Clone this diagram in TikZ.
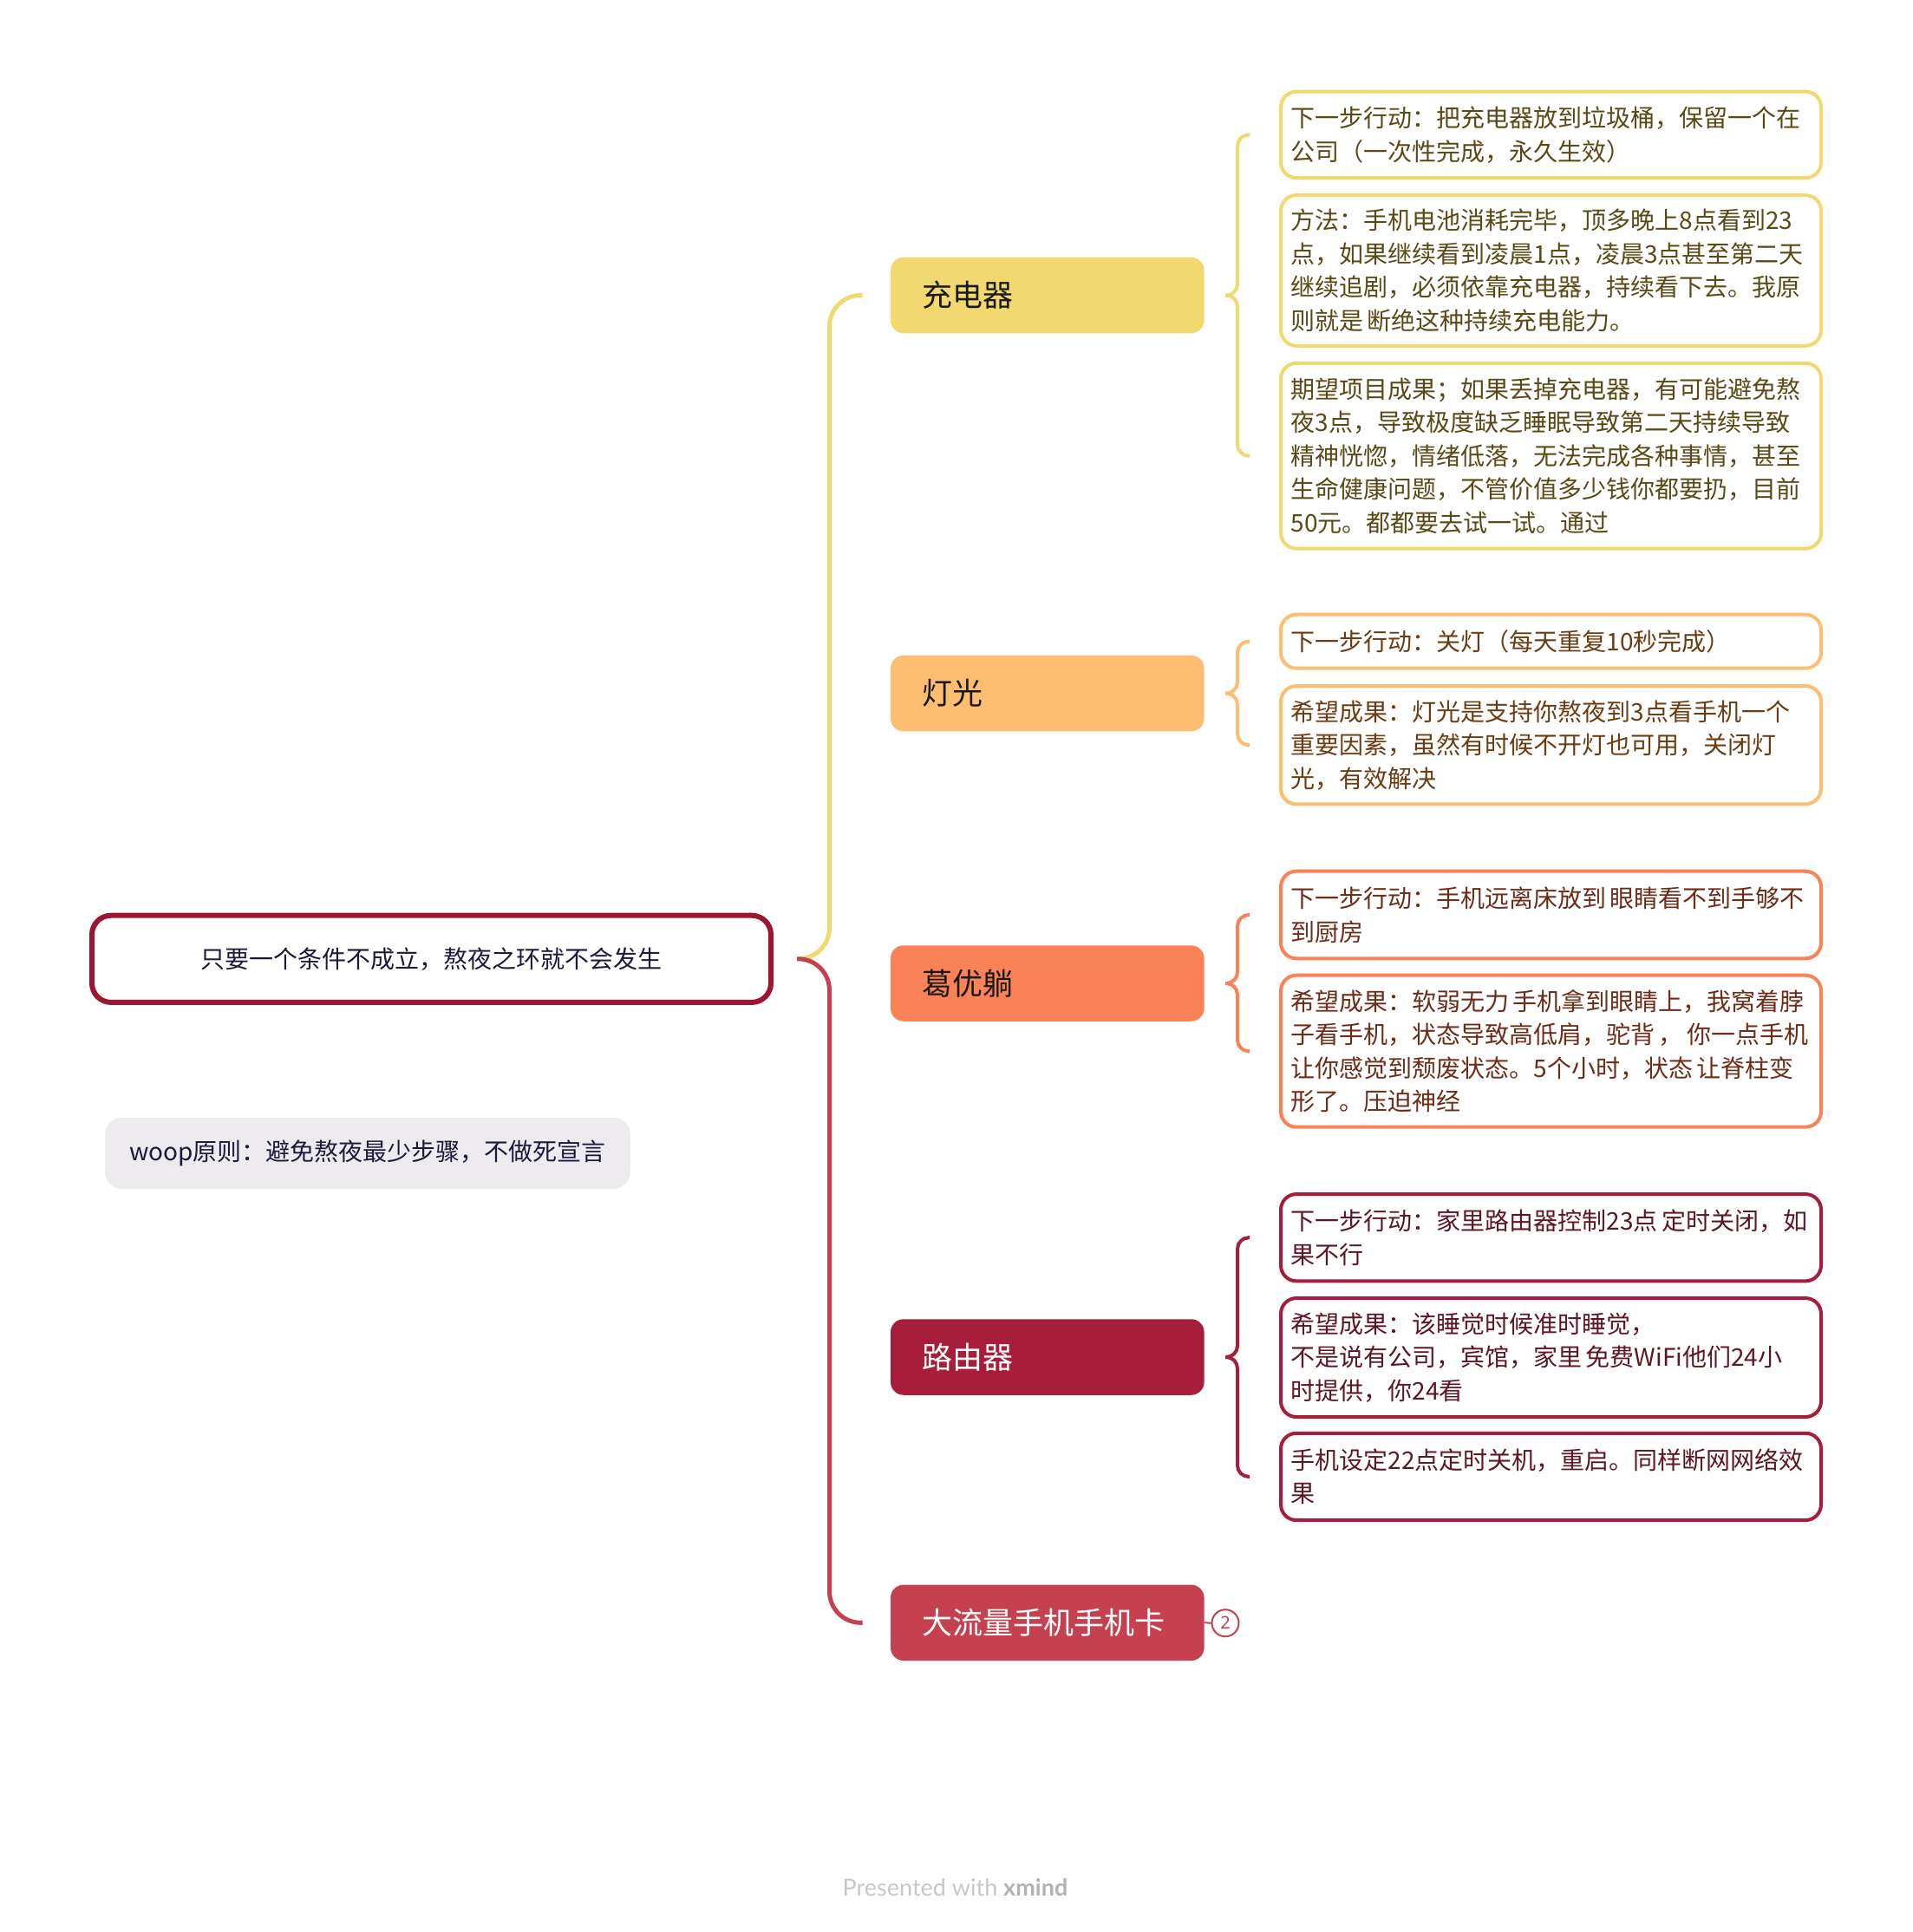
\documentclass[tikz,border=0pt]{standalone}
\usepackage{fontspec}
\setmainfont{Noto Sans}
\newfontfamily\cjk{Noto Sans CJK SC}
\newfontfamily\footfont{Lato}
\usetikzlibrary{calc}
\definecolor{cYel}{HTML}{F1D86F}
\definecolor{cLor}{HTML}{FEBE72}
\definecolor{cOra}{HTML}{F98357}
\definecolor{cDrd}{HTML}{A61E3A}
\definecolor{cRed}{HTML}{C5414F}
\definecolor{cRoot}{HTML}{9C1631}
\definecolor{cNavy}{HTML}{1C1A3A}
\definecolor{cGray}{HTML}{EDEBEE}
\definecolor{tYel}{HTML}{5A4914}
\definecolor{tLor}{HTML}{6B3C12}
\definecolor{tOra}{HTML}{6E2B17}
\definecolor{tDrd}{HTML}{5E1524}
\newcommand\gsp{\hspace{0.16em}}
\begin{document}
\begin{tikzpicture}[x=1pt,y=-1pt,
  every node/.style={outer sep=0pt},
  mainnode/.style={rounded corners=7.5pt, minimum width=180.8pt, minimum height=43.75pt,
    text width=144.2pt, inner xsep=18.3pt, inner ysep=0pt, align=left,
    font=\cjk\fontsize{17.5}{21}\selectfont, anchor=west},
  subbox/.style={draw=#1, line width=2pt, rounded corners=9pt, fill=white,
    minimum width=311.5pt, text width=300pt, inner xsep=5.75pt, inner ysep=0pt,
    align=left, font=\cjk\fontsize{14}{19.25}\selectfont, anchor=west},
  bracel/.style={draw=#1, line width=2pt, rounded corners=6.5pt},
  trunkl/.style={draw=#1, line width=2.5pt, rounded corners=18pt},
]
\useasboundingbox (0,0) rectangle (1103,1114);

% root and floating note
\node[draw=cRoot, line width=3pt, rounded corners=11pt, minimum width=391.5pt,
  minimum height=50.1pt, text=cNavy, font=\cjk\fontsize{14}{17}\selectfont]
  (root) at (248.75,552.9) {只要一个条件不成立，熬夜之环就不会发生};
\node[fill=cGray, rounded corners=10pt, minimum width=303pt, minimum height=41pt,
  text=cNavy, font=\cjk\fontsize{14}{17}\selectfont]
  (woop) at (212,665) {woop原则：避免熬夜最少步骤，不做死宣言};

% main topics
\node[mainnode, fill=cYel, text=black!90] (n1) at (513.5,170.25) {充电器};
\node[mainnode, fill=cLor, text=black!90] (n2) at (513.5,399.8) {灯光};
\node[mainnode, fill=cOra, text=black!90] (n3) at (513.5,567) {葛优躺};
\node[mainnode, fill=cDrd, text=white] (n4) at (513.5,782.5) {路由器};
\node[mainnode, fill=cRed, text=white] (n5) at (513.5,935.65) {大流量手机手机卡};

% subtopics
\node[subbox=cYel, text=tYel, minimum height=49.8pt] (a1) at (738.5,77.7)
  {下一步行动：把充电器放到垃圾桶，保留一个在\\公司（一次性完成，永久生效）};
\node[subbox=cYel, text=tYel, minimum height=86.85pt] (a2) at (738.5,155.95)
  {方法：手机电池消耗完毕，顶多晚上8点看到23\\点，如果继续看到凌晨1点，凌晨3点甚至第二天\\继续追剧，必须依靠充电器，持续看下去。我原\\则就是\gsp 断绝这种持续充电能力。};
\node[subbox=cYel, text=tYel, minimum height=106.9pt] (a3) at (738.5,262.85)
  {期望项目成果；如果丢掉充电器，有可能避免熬\\夜3点，导致极度缺乏睡眠导致第二天持续导致\\精神恍惚，情绪低落，无法完成各种事情，甚至\\生命健康问题，不管价值多少钱你都要扔，目前\\50元。都都要去试一试。通过};

\node[subbox=cLor, text=tLor, minimum height=31pt] (b1) at (738.5,369.85)
  {下一步行动：关灯（每天重复10秒完成）};
\node[subbox=cLor, text=tLor, minimum height=68.15pt] (b2) at (738.5,429.6)
  {希望成果：灯光是支持你熬夜到3点看手机一个\\重要因素，虽然有时候不开灯也可用，关闭灯\\光，有效解决};

\node[subbox=cOra, text=tOra, minimum height=50.3pt] (g1) at (738.5,527.5)
  {下一步行动：手机远离床放到\gsp 眼睛看不到手够不\\到厨房};
\node[subbox=cOra, text=tOra, minimum height=87.5pt] (g2) at (738.5,606.1)
  {希望成果：软弱无力\gsp 手机拿到眼睛上，我窝着脖\\子看手机，状态导致高低肩，驼背\gsp ，\gsp 你一点手机\\让你感觉到颓废状态。5个小时，状态\gsp 让脊柱变\\形了。压迫神经};

\node[subbox=cDrd, text=tDrd, minimum height=50.15pt] (r1) at (738.5,713.6)
  {下一步行动：家里路由器控制23点\gsp 定时关闭，如\\果不行};
\node[subbox=cDrd, text=tDrd, minimum height=68.5pt] (r2) at (738.5,782.75)
  {希望成果：该睡觉时候准时睡觉，\\不是说有公司，宾馆，家里\gsp 免费WiFi他们24小\\时提供，你24看};
\node[subbox=cDrd, text=tDrd, minimum height=50.15pt] (r3) at (738.5,851.45)
  {手机设定22点定时关机，重启。同样断网网络效\\果};

% badge
\node[circle, draw=cRed, line width=1pt, fill=white, minimum size=15.5pt, inner sep=0pt,
  text=cRed, font=\fontsize{10}{10}\selectfont] (badge) at (706.5,935.85) {2};
\draw[cRed, line width=1pt] (n5.east) -- (badge.west);

% trunk
\draw[trunkl=cYel] ($(root.east)+(15,0)$) -- ($(root.east)+(33.75,0)$)
  -- ($(n1.west)+(-35.25,0)$) -- ($(n1.west)+(-16.2,0)$);
\draw[trunkl=cRed] ($(root.east)+(15,0)$) -- ($(root.east)+(33.75,0)$)
  -- ($(n5.west)+(-35.25,0)$) -- ($(n5.west)+(-16.2,0)$);

% braces
\draw[bracel=cYel] ($(a1.west)+(-18,0)$) -- ($(a1.west)+(-25,0)$) -- ($(n1.east)+(19.2,0)$) -- ($(n1.east)+(12.2,0)$);
\draw[bracel=cYel] ($(n1.east)+(12.2,0)$) -- ($(n1.east)+(19.2,0)$) -- ($(a3.west)+(-25,0)$) -- ($(a3.west)+(-18,0)$);
\draw[bracel=cLor] ($(b1.west)+(-18,0)$) -- ($(b1.west)+(-25,0)$) -- ($(n2.east)+(19.2,0)$) -- ($(n2.east)+(12.2,0)$);
\draw[bracel=cLor] ($(n2.east)+(12.2,0)$) -- ($(n2.east)+(19.2,0)$) -- ($(b2.west)+(-25,0)$) -- ($(b2.west)+(-18,0)$);
\draw[bracel=cOra] ($(g1.west)+(-18,0)$) -- ($(g1.west)+(-25,0)$) -- ($(n3.east)+(19.2,0)$) -- ($(n3.east)+(12.2,0)$);
\draw[bracel=cOra] ($(n3.east)+(12.2,0)$) -- ($(n3.east)+(19.2,0)$) -- ($(g2.west)+(-25,0)$) -- ($(g2.west)+(-18,0)$);
\draw[bracel=cDrd] ($(r1.west)+(-18,0)$) -- ($(r1.west)+(-25,0)$) -- ($(n4.east)+(19.2,0)$) -- ($(n4.east)+(12.2,0)$);
\draw[bracel=cDrd] ($(n4.east)+(12.2,0)$) -- ($(n4.east)+(19.2,0)$) -- ($(r3.west)+(-25,0)$) -- ($(r3.west)+(-18,0)$);

% footer
\node[font=\footfont\fontsize{13.5}{15}\selectfont] (foot) at (550.75,1088.5)
  {\textcolor{black!22}{Presented with} \textcolor{black!30}{\textbf{xmind}}};
\end{tikzpicture}
\end{document}
